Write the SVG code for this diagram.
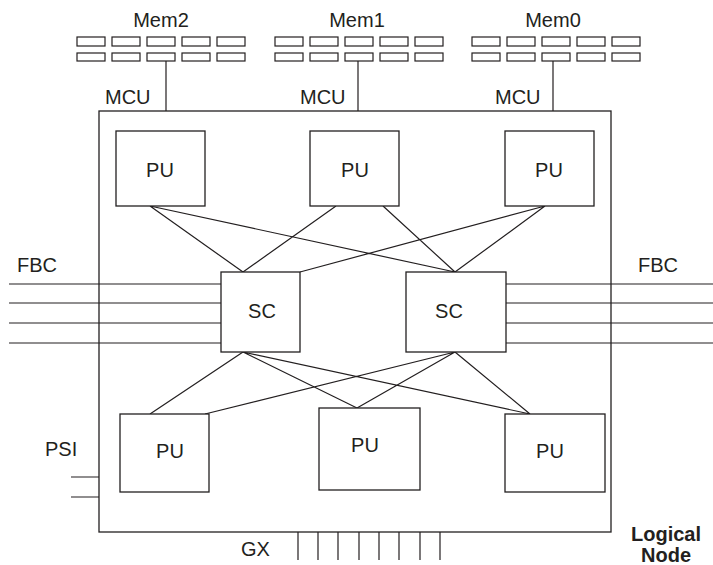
<svg xmlns="http://www.w3.org/2000/svg" width="713" height="565" viewBox="0 0 713 565">
<style>
  .box { fill: #fff; stroke: #231f20; stroke-width: 1.3; }
  .frame { fill: none; stroke: #231f20; stroke-width: 1.3; }
  .mem { fill: #fff; stroke: #231f20; stroke-width: 1.2; }
  .ln { stroke: #231f20; stroke-width: 1.2; fill: none; }
  .t { font-family: "Liberation Sans", Arial, sans-serif; font-size: 20px; fill: #231f20; }
  .b { font-family: "Liberation Sans", Arial, sans-serif; font-size: 20px; font-weight: bold; fill: #231f20; }
</style>
<defs>
  <g id="bank">
    <rect class="mem" x="0" y="0" width="28" height="9"/>
    <rect class="mem" x="35" y="0" width="28" height="9"/>
    <rect class="mem" x="70" y="0" width="28" height="9"/>
    <rect class="mem" x="105" y="0" width="28" height="9"/>
    <rect class="mem" x="140" y="0" width="28" height="9"/>
    <rect class="mem" x="0" y="16" width="28" height="8"/>
    <rect class="mem" x="35" y="16" width="28" height="8"/>
    <rect class="mem" x="70" y="16" width="28" height="8"/>
    <rect class="mem" x="105" y="16" width="28" height="8"/>
    <rect class="mem" x="140" y="16" width="28" height="8"/>
  </g>
</defs>
<rect width="713" height="565" fill="#fff"/>

<g id="node">
  <rect class="frame" x="99" y="111" width="512" height="421"/>
</g>

<!-- external links: FBC, PSI, GX, MCU; internal PU-SC fabric -->
<g id="connectors">
  <path class="ln" d="M9 284H221M9 303H221M9 323H221M9 343H221"/>
  <path class="ln" d="M506 284H713M506 303H713M506 323H713M506 343H713"/>
  <path class="ln" d="M71 477H99M71 497H99"/>
  <path class="ln" d="M298 532V560M318 532V560M338 532V560M359 532V560M379 532V560M399 532V560M420 532V560M440 532V560"/>
  <path class="ln" d="M166 61V111M358 61V111M553 61V111"/>
  <path class="ln" d="M150 206L243 272M150 206L455 272M336 206L243 272M383 206L455 272M545 206L300 272M545 206L455 272"/>
  <path class="ln" d="M243 352L150 414M243 352L357 408M243 352L530 414M455 352L205 414M455 352L357 408M455 352L530 414"/>
</g>

<g id="mem2"><use href="#bank" x="77" y="37"/><text class="t" x="161" y="27" text-anchor="middle">Mem2</text></g>
<g id="mem1"><use href="#bank" x="275" y="37"/><text class="t" x="357" y="27" text-anchor="middle">Mem1</text></g>
<g id="mem0"><use href="#bank" x="472" y="37"/><text class="t" x="553" y="27" text-anchor="middle">Mem0</text></g>

<g id="mcu-labels">
  <text class="t" x="105" y="104">MCU</text>
  <text class="t" x="300" y="104">MCU</text>
  <text class="t" x="495" y="104">MCU</text>
</g>

<g id="pu-top-left"><rect class="box" x="116" y="131" width="89" height="75"/><text class="t" x="160" y="177" text-anchor="middle">PU</text></g>
<g id="pu-top-mid"><rect class="box" x="310" y="131" width="89" height="75"/><text class="t" x="355" y="177" text-anchor="middle">PU</text></g>
<g id="pu-top-right"><rect class="box" x="505" y="131" width="89" height="75"/><text class="t" x="549" y="177" text-anchor="middle">PU</text></g>

<g id="sc-left"><rect class="box" x="221" y="272" width="79" height="80"/><text class="t" x="262" y="318" text-anchor="middle">SC</text></g>
<g id="sc-right"><rect class="box" x="406" y="272" width="100" height="80"/><text class="t" x="449" y="318" text-anchor="middle">SC</text></g>

<g id="pu-bot-left"><rect class="box" x="120" y="414" width="89" height="78"/><text class="t" x="170" y="458" text-anchor="middle">PU</text></g>
<g id="pu-bot-mid"><rect class="box" x="319" y="408" width="101" height="82"/><text class="t" x="365" y="452" text-anchor="middle">PU</text></g>
<g id="pu-bot-right"><rect class="box" x="505" y="414" width="100" height="78"/><text class="t" x="550" y="458" text-anchor="middle">PU</text></g>

<g id="labels">
  <text class="t" x="17" y="272">FBC</text>
  <text class="t" x="638" y="272">FBC</text>
  <text class="t" x="45" y="456">PSI</text>
  <text class="t" x="241" y="556">GX</text>
  <text class="b" x="666" y="541" text-anchor="middle">Logical</text>
  <text class="b" x="666" y="562" text-anchor="middle">Node</text>
</g>
</svg>
